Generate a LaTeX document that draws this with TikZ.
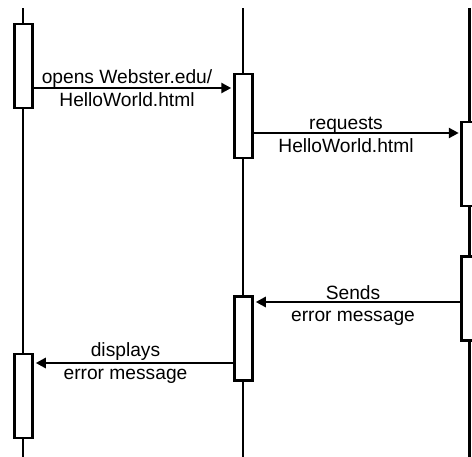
\documentclass[tikz,border=0pt]{standalone}
\usepackage{fontspec}
\setmainfont{Liberation Sans}
\usetikzlibrary{arrows.meta}
\tikzset{
  lifeline/.style={line width=2.8pt},
  actbox/.style={draw, fill=white, line width=2.8pt, minimum width=18.5pt,
    minimum height=84pt, inner sep=0pt, outer sep=0pt},
  msg/.style={line width=2.8pt, -{Triangle[length=10pt,width=10pt]}, shorten >=3pt},
  lbl/.style={anchor=base, inner sep=0pt,
    font=\fontsize{19.2}{23}\selectfont}
}
\begin{document}
\begin{tikzpicture}[x=1pt,y=-1pt]
\clip (0,0) rectangle (472,456);
% lifelines
\coordinate (t1) at (23,8);    \coordinate (e1) at (23,460);
\coordinate (t2) at (243,8);   \coordinate (e2) at (243,460);
\coordinate (t3) at (469.5,8); \coordinate (e3) at (469.5,460);
\draw[lifeline] (t1) -- (e1);
\draw[lifeline] (t2) -- (e2);
\draw[lifeline] (t3) -- (e3);
% activation boxes
\node[actbox] (b1) at (23.5,66) {};
\node[actbox] (b2) at (243.5,116) {};
\node[actbox] (b3) at (471,164) {};
\node[actbox] (b4) at (471,298.5) {};
\node[actbox] (b5) at (243.5,338.7) {};
\node[actbox] (b6) at (23.5,396) {};
% message heights
\coordinate (m1) at (0,88);
\coordinate (m2) at (0,133);
\coordinate (m3) at (0,302);
\coordinate (m4) at (0,363);
% messages
\draw[msg] (b1.east |- m1) -- (b2.west |- m1);
\draw[msg] (b2.east |- m2) -- (b3.west |- m2);
\draw[msg] (b4.west |- m3) -- (b5.east |- m3);
\draw[msg] (b5.west |- m4) -- (b6.east |- m4);
% labels
\node[lbl] (l1a) at (127,83.3) {opens Webster.edu/};
\node[lbl] (l1b) at (127,106) {HelloWorld.html};
\node[lbl] (l2a) at (346,129.8) {requests};
\node[lbl] (l2b) at (346,152.7) {HelloWorld.html};
\node[lbl] (l3a) at (353,299.3) {Sends};
\node[lbl] (l3b) at (353,321.7) {error message};
\node[lbl] (l4a) at (125.5,356) {displays};
\node[lbl] (l4b) at (125.5,379.3) {error message};
\end{tikzpicture}
\end{document}
